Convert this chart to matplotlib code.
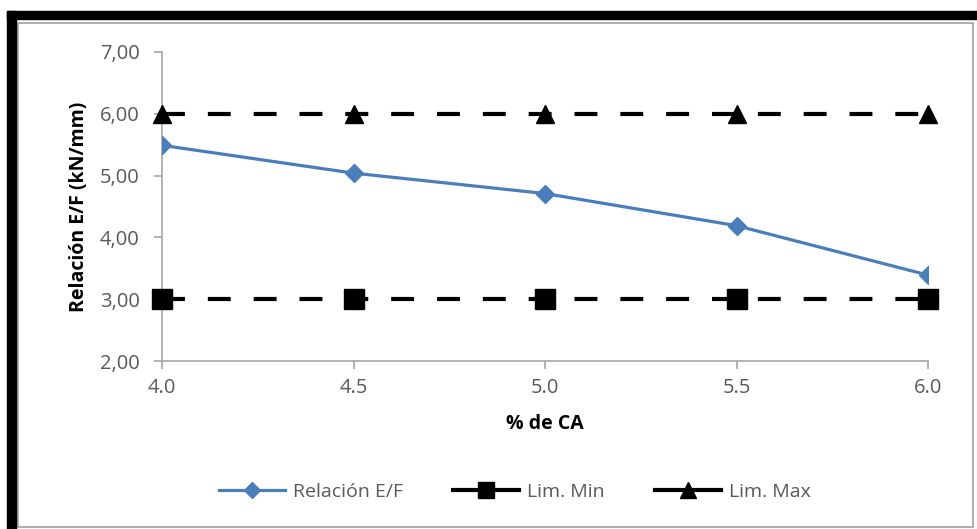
import matplotlib.pyplot as plt
from matplotlib.lines import Line2D
from matplotlib.patches import Rectangle
from matplotlib.ticker import FuncFormatter

plt.rcParams['font.family'] = ['Open Sans', 'DejaVu Sans']

ca = [4.0, 4.5, 5.0, 5.5, 6.0]
relacion = [5.49, 5.04, 4.71, 4.19, 3.39]
lim_min = [3.0, 3.0, 3.0, 3.0, 3.0]
lim_max = [6.0, 6.0, 6.0, 6.0, 6.0]

W, H = 977, 529
fig = plt.figure(figsize=(W / 100, H / 100), dpi=100)
ax = fig.add_axes([162 / W, 1 - 361 / H, (928 - 162) / W, (361 - 52) / H])

txt = '#595959'
blue = '#4a7ebb'
ax.plot(ca, relacion, color=blue, lw=2.3, marker='D', ms=9, zorder=3)
ax.plot(ca, lim_min, color='black', lw=3, dashes=(5.5, 5.5), marker='s',
        ms=14, clip_on=False, zorder=4)
ax.plot(ca, lim_max, color='black', lw=3, dashes=(5.5, 5.5), marker='^',
        ms=13, clip_on=False, zorder=4)

ax.set_xlim(4.0, 6.0)
ax.set_ylim(2.0, 7.0)
ax.set_xticks(ca)
ax.set_yticks([2, 3, 4, 5, 6, 7])
ax.xaxis.set_major_formatter(FuncFormatter(lambda v, p: f'{v:.1f}'))
ax.yaxis.set_major_formatter(FuncFormatter(lambda v, p: f'{v:.2f}'.replace('.', ',')))
for s in ['top', 'right']:
    ax.spines[s].set_visible(False)
for s in ['left', 'bottom']:
    ax.spines[s].set_color('#a6a6a6')
    ax.spines[s].set_linewidth(1.2)
ax.tick_params(colors='#a6a6a6', labelcolor=txt, labelsize=14.5, length=6, width=1.2)
ax.tick_params(axis='y', pad=10)
ax.tick_params(axis='x', pad=6)

ax.set_xlabel('% de CA', fontsize=14, fontweight='bold', color='black', labelpad=12)
ax.set_ylabel('Relación E/F (kN/mm)', fontsize=14, fontweight='bold', color='black', labelpad=8)

handles = [
    Line2D([], [], color=blue, lw=2.3, marker='D', ms=8),
    Line2D([], [], color='black', lw=3, marker='s', ms=12),
    Line2D([], [], color='black', lw=3, marker='^', ms=11),
]
labels = ['Relación E/F', 'Lim. Min', 'Lim. Max']
leg = fig.legend(handles, labels, loc='center', bbox_to_anchor=(515 / W, 1 - 492 / H),
                 ncol=3, frameon=False, fontsize=14, handlelength=3.4,
                 columnspacing=2.6, handletextpad=0.4)
for t in leg.get_texts():
    t.set_color(txt)

# outer frame
fig.patches.append(Rectangle((18 / W, 2 / H), (973 - 18) / W, (506 - 2) / H,
                             transform=fig.transFigure, fill=False, ec='#a0a0a0', lw=1.2))
fig.patches.append(Rectangle((7 / W, 0), 9 / W, 1 - 11 / H,
                             transform=fig.transFigure, color='black'))
fig.patches.append(Rectangle((7 / W, 1 - 19 / H), 1 - 7 / W, 8 / H,
                             transform=fig.transFigure, color='black'))

fig.savefig('out.png', dpi=100)
